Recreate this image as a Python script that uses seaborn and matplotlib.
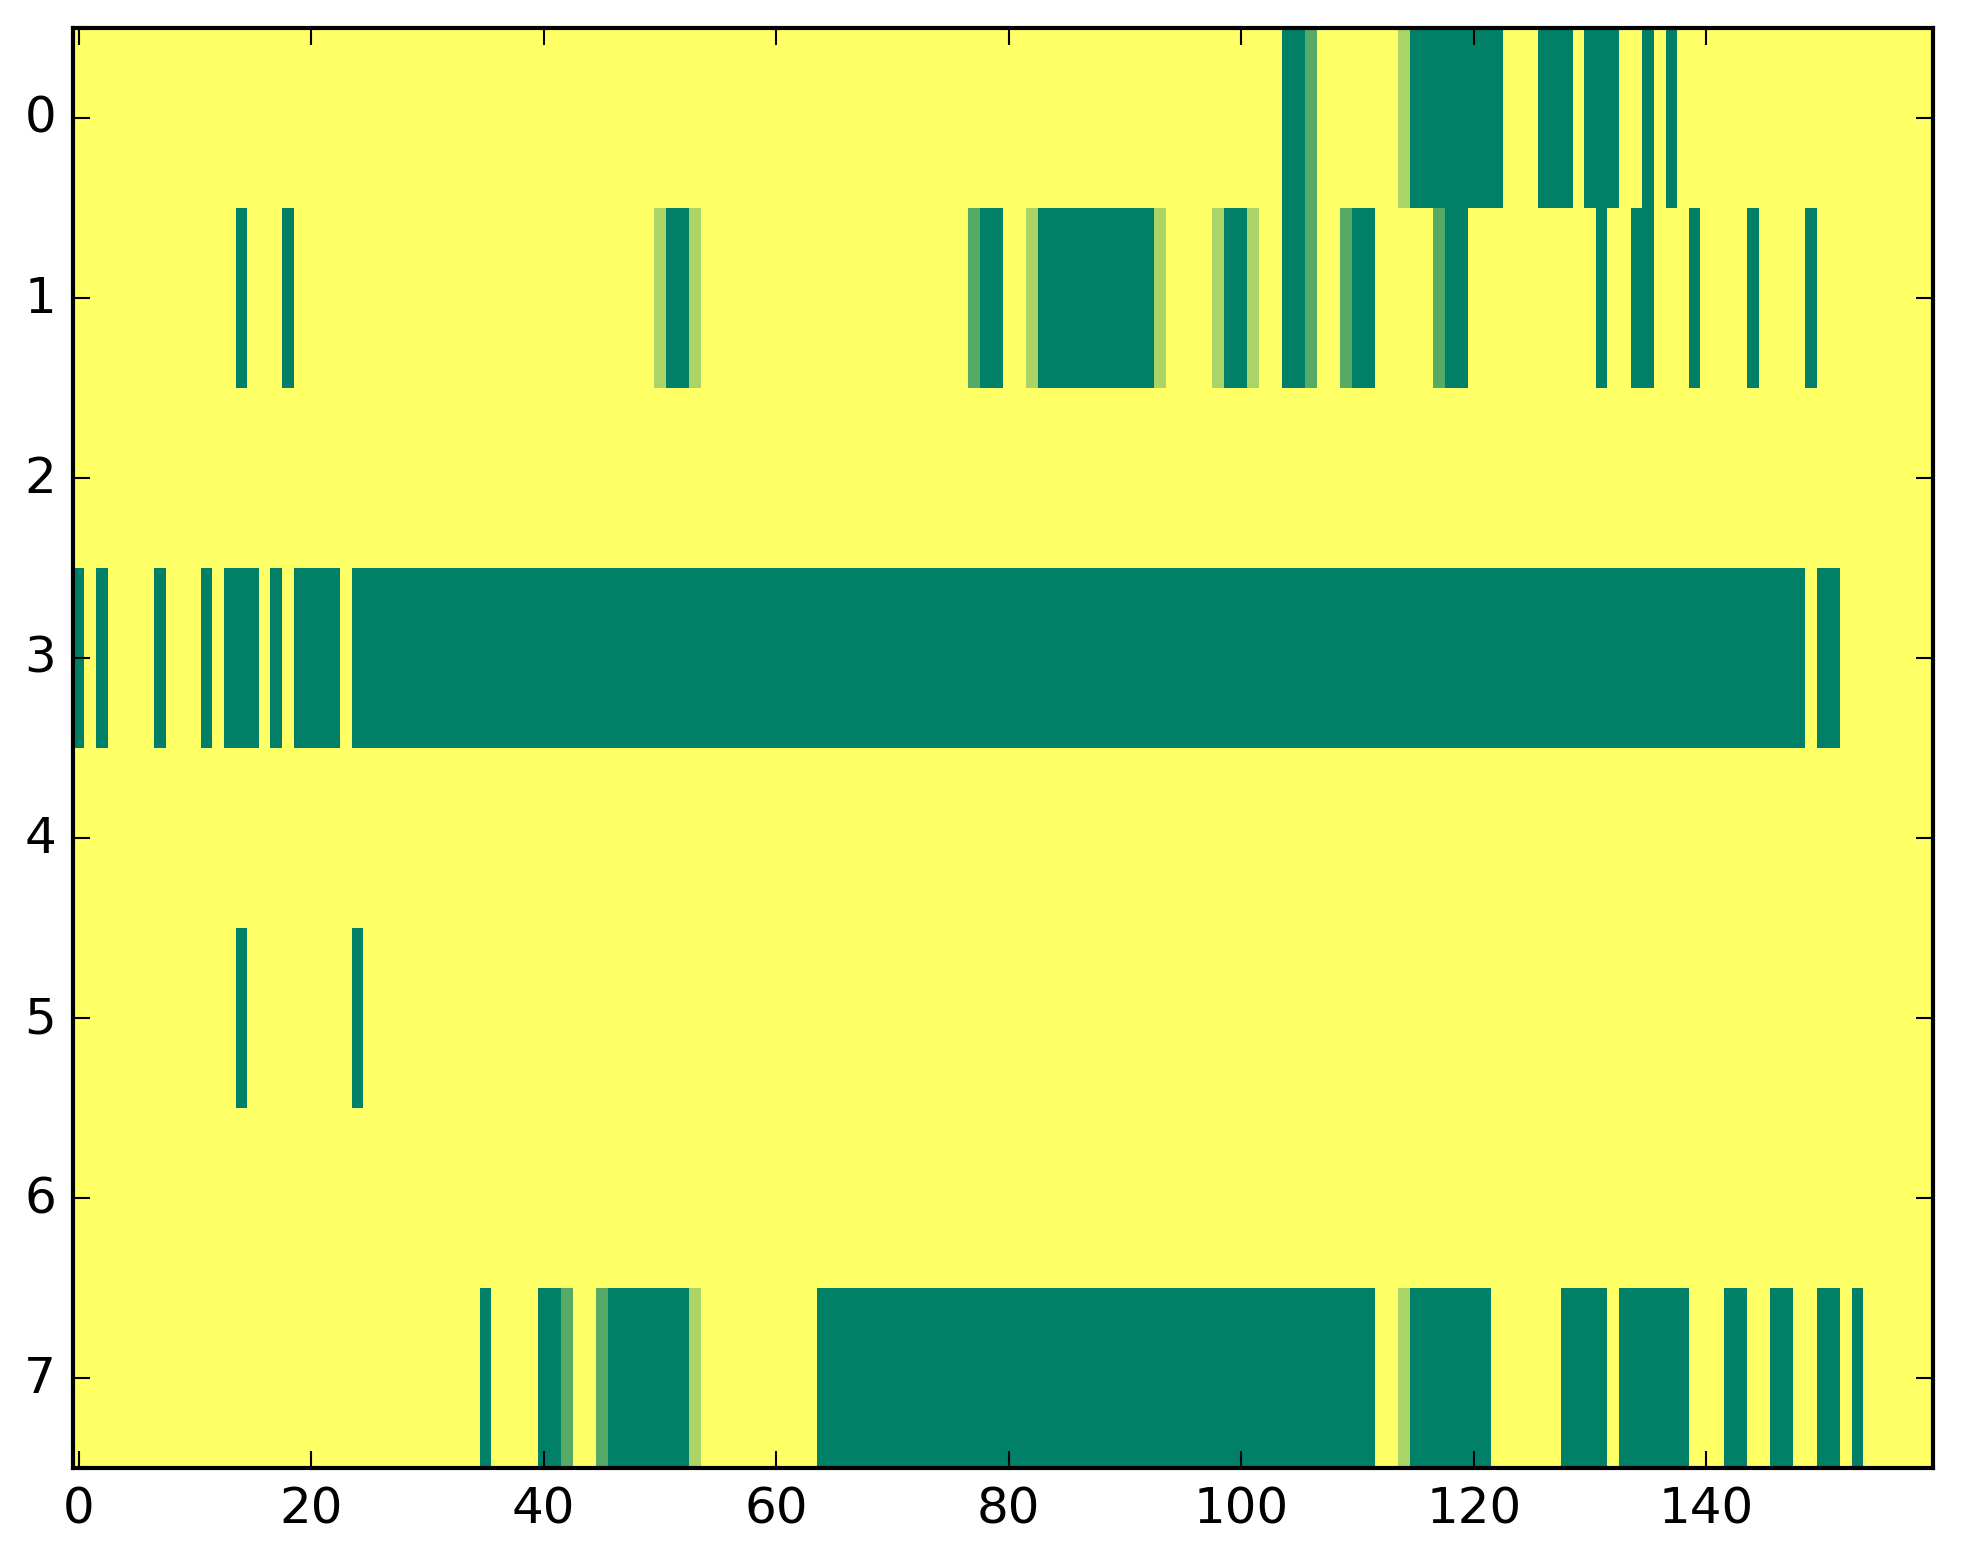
import matplotlib
matplotlib.use('Agg')

import numpy as np
import matplotlib.pyplot as plt
import seaborn as sns

# --------------------------------------------------------------------------- #
# DATA — 8 rows x 160 columns
# full = value 1, medium = value 2/3, light = value 1/3, everything else 0
# spans are inclusive (first, last) column indices
# --------------------------------------------------------------------------- #
N_ROWS = 8
N_COLS = 160

row0_full = [(104, 105), (115, 122), (126, 128), (130, 132), (135, 135), (137, 137)]
row0_medium = [106]
row0_light = [114]

row1_full = [(14, 14), (18, 18), (51, 52), (78, 79), (83, 92), (99, 100),
             (104, 105), (110, 111), (118, 119), (131, 131), (134, 135),
             (139, 139), (144, 144), (149, 149)]
row1_medium = [77, 106, 109, 117]
row1_light = [50, 53, 82, 93, 98, 101]

row3_full = [(0, 0), (2, 2), (7, 7), (11, 11), (13, 15), (17, 17), (19, 22),
             (24, 148), (150, 151)]

row5_full = [(14, 14), (24, 24)]

row7_full = [(35, 35), (40, 41), (46, 52), (64, 111), (115, 121), (128, 131),
             (133, 138), (142, 143), (146, 147), (150, 151), (153, 153)]
row7_medium = [42, 45]
row7_light = [53, 114]

FULL = {0: row0_full, 1: row1_full, 3: row3_full, 5: row5_full, 7: row7_full}
MEDIUM = {0: row0_medium, 1: row1_medium, 7: row7_medium}
LIGHT = {0: row0_light, 1: row1_light, 7: row7_light}

X_TICKS = [0, 20, 40, 60, 80, 100, 120, 140]
Y_TICKS = list(range(N_ROWS))

# --------------------------------------------------------------------------- #
# BUILD GRID
# --------------------------------------------------------------------------- #
grid = np.zeros((N_ROWS, N_COLS))
for r, spans in FULL.items():
    for a, b in spans:
        grid[r, a:b + 1] = 1.0
for r, cols in MEDIUM.items():
    grid[r, cols] = 2.0 / 3.0
for r, cols in LIGHT.items():
    grid[r, cols] = 1.0 / 3.0

# --------------------------------------------------------------------------- #
# PLOT
# --------------------------------------------------------------------------- #
plt.rcParams['font.family'] = ['DejaVu Sans']

fig = plt.figure(figsize=(1963 / 300, 1564 / 300), dpi=300)
ax = fig.add_axes([0.0371, 0.0607, 0.9847 - 0.0371, 0.9815 - 0.0607])

sns.heatmap(grid, cmap="summer_r", vmin=0, vmax=1, cbar=False, ax=ax)

ax.set_xticks(np.array(X_TICKS) + 0.5)
ax.set_xticklabels([str(t) for t in X_TICKS], rotation=0)
ax.set_yticks(np.array(Y_TICKS) + 0.5)
ax.set_yticklabels([str(t) for t in Y_TICKS], rotation=0)

for s in ax.spines.values():
    s.set_visible(True)
    s.set_linewidth(1.0)
    s.set_color("black")

ax.tick_params(which="both", direction="in", top=True, right=True,
               length=4, width=0.5, pad=4, labelsize=12, colors="black")

fig.savefig("out.png", dpi=300, facecolor="white")
plt.close(fig)
